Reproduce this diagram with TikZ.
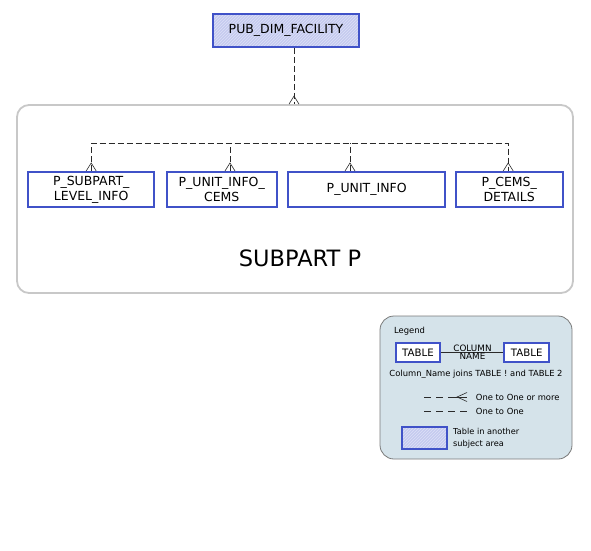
\documentclass[tikz,border=0pt]{standalone}
\usepackage{fontspec}
\setmainfont{DejaVu Sans}
\usetikzlibrary{patterns}
\definecolor{tblblue}{HTML}{4052C8}
\definecolor{hatchfill}{HTML}{C6CBEF}
\definecolor{hatchline}{HTML}{DDE0F7}
\definecolor{contgray}{HTML}{C8C8C8}
\definecolor{legfill}{HTML}{D5E3EA}
\definecolor{legborder}{HTML}{7A7A7A}
\definecolor{lnk}{HTML}{2A2A2A}
\begin{document}
\begin{tikzpicture}[x=1pt,y=-1pt,
  tbl/.style={draw=tblblue, line width=1.8pt, fill=white, inner sep=0pt, align=center, font=\fontsize{12.5}{15}\selectfont},
  ext/.style={tbl, fill=hatchfill, postaction={pattern=north east lines, pattern color=hatchline}, postaction={draw=tblblue, line width=1.8pt}},
  lnkline/.style={draw=lnk, line width=0.9pt, dash pattern=on 6pt off 3pt},
  foot/.style={draw=lnk, line width=0.6pt},
  crow/.pic={\draw[foot] (-5,0) -- (0,-8) -- (5,0);},
  legtext/.style={font=\fontsize{8.4}{10}\selectfont, inner sep=0pt}
]
\useasboundingbox (0,0) rectangle (591,550);

% top external table
\node[ext, minimum width=146, minimum height=33] (pub) at (286,30.5) {PUB\_DIM\_FACILITY};

% container
\node[draw=contgray, line width=1.8pt, rounded corners=12pt, minimum width=556, minimum height=188] (sp) at (295,199) {};
\node[font=\fontsize{22.5}{26}\selectfont] (spl) at (300,258) {SUBPART P};

\coordinate (ps) at ([xshift=8]pub.south);
\coordinate (pe) at (ps |- sp.north);
\draw[lnkline] (ps) -- (pe);
\pic at (pe) {crow};

% tables
\node[tbl, minimum width=125.7, minimum height=35.3] (t1) at (91.2,189.5) {P\_SUBPART\_\\LEVEL\_INFO};
\node[tbl, minimum width=110, minimum height=35.3] (t2) at (221.7,189.5) {P\_UNIT\_INFO\_\\CEMS};
\node[tbl, minimum width=156.7, minimum height=35.3] (t3) at (366.7,189.5) {P\_UNIT\_INFO};
\node[tbl, minimum width=107, minimum height=35.3] (t4) at (509.2,189.5) {P\_CEMS\_\\DETAILS};

\coordinate (busy) at (0,143.3);
\coordinate (c1) at (t1.north);
\coordinate (c2) at ([xshift=8.3]t2.north);
\coordinate (c3) at ([xshift=-16.7]t3.north);
\coordinate (c4) at ([xshift=-1]t4.north);
\draw[lnkline] (c1) -- (c1 |- busy) -- (c4 |- busy) -- (c4);
\draw[lnkline] (c2) -- (c2 |- busy);
\draw[lnkline] (c3) -- (c3 |- busy);
\foreach \c in {c1,c2,c3,c4} { \pic at (\c) {crow}; }

% legend
\node[draw=legborder, fill=legfill, line width=0.8pt, rounded corners=14pt, minimum width=192, minimum height=143] (leg) at (476,387.5) {};
\node[legtext, anchor=west] (legt) at (394,331) {Legend};
\node[tbl, line width=1.5pt, font=\fontsize{10.2}{12}\selectfont, minimum width=44, minimum height=19] (lt1) at (418,352.5) {TABLE};
\node[tbl, line width=1.5pt, font=\fontsize{10.2}{12}\selectfont, minimum width=45, minimum height=19] (lt2) at (526.7,352.5) {TABLE};
\draw[lnk, line width=0.6pt] (lt1.east) -- (lt2.west);
\node[font=\fontsize{8.8}{10}\selectfont, anchor=south, inner sep=0.6pt] (col) at (472.5,352.5) {COLUMN};
\node[font=\fontsize{8.8}{10}\selectfont, anchor=north, inner sep=0.6pt] (nam) at (472.5,352.5) {NAME};
\node[legtext] (cap) at (476,374) {Column\_Name joins TABLE ! and TABLE 2};

\coordinate (la) at (424,397);
\coordinate (lm) at (455,397);
\coordinate (lb) at (467,397);
\draw[lnk, line width=0.6pt, dash pattern=on 7pt off 5pt] (la) -- (lm);
\draw[lnk, line width=0.6pt] (lm) -- (lb);
\draw[foot] ([yshift=-4.5pt]lb) -- ([xshift=-10pt]lb) -- ([yshift=4.5pt]lb);
\node[legtext, anchor=west] (l1t) at (475.7,397) {One to One or more};

\coordinate (oa) at (424,411.3);
\coordinate (ob) at (467,411.3);
\draw[lnk, line width=0.6pt, dash pattern=on 7pt off 5pt] (oa) -- (ob);
\node[legtext, anchor=west] (l2t) at (475.7,411.3) {One to One};

\node[ext, line width=1.5pt, postaction={draw=tblblue, line width=1.5pt}, minimum width=45, minimum height=21.7] (lh) at (424.2,437.8) {};
\node[anchor=west, align=left, font=\fontsize{8.2}{11.5}\selectfont, inner sep=0pt] (lht) at (453,438) {Table in another\\subject area};
\end{tikzpicture}
\end{document}
